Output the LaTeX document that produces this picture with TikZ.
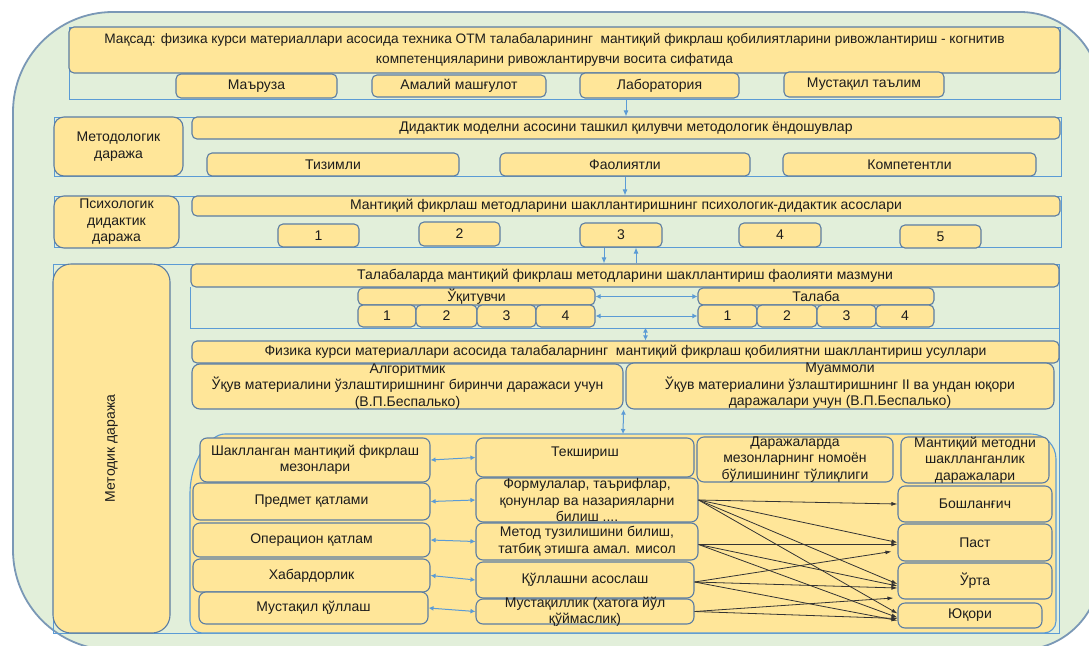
\documentclass[tikz,border=0pt]{standalone}
\usepackage{fontspec}
\setmainfont{Liberation Sans}
\usetikzlibrary{arrows.meta,calc}
\definecolor{frameg}{HTML}{E2EFDA}
\definecolor{framebd}{HTML}{7A98B6}
\definecolor{boxy}{HTML}{FFE699}
\definecolor{boxbd}{HTML}{5B7DA3}
\definecolor{grpl}{HTML}{5B9BD5}
\definecolor{txt}{HTML}{1C1C1C}
\newcommand{\fsz}{\fontsize{14}{16.5}\selectfont}
\tikzset{
 box/.style={draw=boxbd,fill=boxy,line width=1.1pt,rounded corners=5pt,inner sep=0pt},
 lbl/.style={font=\fsz,text=txt,align=center,inner sep=0pt},
 grp/.style={draw=grpl,line width=1pt},
 barrow/.style={draw=grpl,line width=1pt,-{Latex[length=6pt,width=5pt]}},
 bdarrow/.style={draw=grpl,line width=1pt,{Latex[length=5pt,width=5pt]}-{Latex[length=5pt,width=5pt]}},
 karrow/.style={draw=black!80,line width=0.8pt,-{Latex[length=6pt,width=4pt]}},
}
\newcommand{\bx}[7][]{%
 \node[box,#1,minimum width={#4-#2},minimum height={#5-#3}] (#6) at ({(#2+#4)/2},{(#3+#5)/2}) {};
 \node[lbl] (#6t) at (#6.center) {#7};}
\begin{document}
\begin{tikzpicture}[x=1pt,y=-1pt]
\useasboundingbox (0,0) rectangle (1089,645);
\fill[white] (0,0) rectangle (1089,645);
% outer frame
\draw[fill=frameg,draw=framebd,line width=1.8pt]
 (13,112) .. controls (13,56.8) and (57.8,12) .. (113,12)
 -- (1020,12) .. controls (1064.2,12) and (1100,47.8) .. (1100,92)
 -- (1100,570) .. controls (1100,614.2) and (1064.2,650) .. (1020,650)
 -- (113,650) .. controls (57.8,650) and (13,605.2) .. (13,550) -- cycle;
% group lines
\draw[grp] (69,27) rectangle (1060,99);
\draw[grp] (54,117) rectangle (1061,176);
\draw[grp] (54,196) rectangle (1061,247);
\draw[grp] (53,264) rectangle (1059,633);
\draw[grp] (190,287) -- (190,328) -- (1059,328);
% bottom group
\draw[fill=boxy,draw=grpl,line width=1.1pt]
 (190,494) .. controls (190,460.9) and (209.3,434) .. (225,434)
 -- (1031,434) .. controls (1044.8,434) and (1056,445.2) .. (1056,459)
 -- (1056,621) .. controls (1056,627.6) and (1050.6,633) .. (1044,633)
 -- (202,633) .. controls (195.4,633) and (190,627.6) .. (190,621) -- cycle;
% top section
\bx{69}{27}{1060}{73}{goal}{}
\node[lbl,font={\fontsize{13.7}{19.5}\selectfont}] (goaltx) at ($(goal.center)+(-10,0)$) {Мақсад: физика курси материаллари асосида техника ОТМ талабаларининг\ \ мантиқий фикрлаш қобилиятларини ривожлантириш - когнитив\\компетенцияларини ривожлантирувчи восита сифатида};
\bx{176}{74}{337}{98}{mar}{Маъруза}
\bx{372}{75}{546}{97}{ama}{Амалий машғулот}
\bx{580}{73}{739}{98}{lab}{Лаборатория}
\bx{784}{72}{944}{97}{mus}{Мустақил таълим}
% methodological
\bx[rounded corners=10pt]{54}{117}{183}{176}{mlev}{Методологик\\даража}
\bx{192}{117}{1060}{139}{did}{Дидактик моделни асосини ташкил қилувчи методологик ёндошувлар}
\bx{207}{153}{459}{176}{tiz}{Тизимли}
\bx{500}{153}{750}{176}{fao}{Фаолиятли}
\bx{783}{153}{1036}{176}{komp}{Компетентли}
% psychological
\bx[rounded corners=10pt]{54}{196}{179}{248}{plev}{Психологик\\дидактик\\даража}
\bx{192}{196}{1060}{216}{psy}{Мантиқий фикрлаш методларини шакллантиришнинг психологик-дидактик асослари}
\bx{278}{224}{359}{247}{p1}{1}
\bx{419}{222}{500}{246}{p2}{2}
\bx{580}{223}{662}{247}{p3}{3}
\bx{739}{223}{821}{247}{p4}{4}
\bx{900}{225}{981}{248}{p5}{5}
% methodic
\bx[rounded corners=18pt]{53}{264}{170}{633}{mk}{}
\node[lbl,rotate=90] (mktx) at (mk.center) {Методик даража};
\bx{191}{264}{1059}{287}{tal}{Талабаларда мантиқий фикрлаш методларини шакллантириш фаолияти мазмуни}
\bx{358}{288}{595}{305}{uq}{Ўқитувчи}
\bx{358}{305}{416}{327}{u1}{1}
\bx{416}{305}{477}{327}{u2}{2}
\bx{477}{305}{536}{327}{u3}{3}
\bx{536}{305}{595}{327}{u4}{4}
\bx{698}{288}{934}{305}{ta}{Талаба}
\bx{698}{305}{757}{327}{t1}{1}
\bx{757}{305}{817}{327}{t2}{2}
\bx{817}{305}{876}{327}{t3}{3}
\bx{876}{305}{934}{327}{t4}{4}
\bx{192}{341}{1059}{363}{fiz}{Физика курси материаллари асосида талабаларнинг\ \ мантиқий фикрлаш қобилиятни шакллантириш усуллари}
\bx[rounded corners=8pt]{192}{364}{623}{409}{alg}{Алгоритмик\\Ўқув материалини ўзлаштиришнинг биринчи даражаси учун\\(В.П.Беспалько)}
\bx[rounded corners=8pt]{626}{363}{1054}{409}{mua}{Муаммоли\\Ўқув материалини ўзлаштиришнинг II ва ундан юқори\\даражалари учун (В.П.Беспалько)}
% bottom boxes
\bx[rounded corners=7pt]{200}{438}{430}{482}{sh}{Шаклланган мантиқий фикрлаш\\мезонлари}
\bx[rounded corners=7pt]{193}{483}{430}{520}{pr}{Предмет қатлами}
\bx[rounded corners=7pt]{193}{523}{430}{557}{op}{Операцион қатлам}
\bx[rounded corners=7pt]{193}{559}{430}{592}{xa}{Хабардорлик}
\bx[rounded corners=7pt]{199}{592}{428}{624}{mu}{Мустақил қўллаш}
\bx[rounded corners=7pt]{476}{438}{694}{477}{te}{}
\node[lbl] (tet) at ($(te.center)+(0,-4)$) {Текшириш};
\bx[rounded corners=7pt]{476}{478}{698}{522}{fo}{Формулалар, таърифлар,\\қонунлар ва назарияларни\\билиш ....}
\bx[rounded corners=7pt]{476}{523}{698}{560}{me}{Метод тузилишини билиш,\\татбиқ этишга амал. мисол}
\bx[rounded corners=7pt]{476}{562}{694}{598}{qu}{Қўллашни асослаш}
\bx[rounded corners=7pt]{476}{599}{694}{624}{ms}{Мустақиллик (хатога йўл\\қўймаслик)}
\bx[rounded corners=7pt]{697}{437}{893}{482}{da}{Даражаларда\\мезонларнинг номоён\\бўлишининг тўлиқлиги}
\bx[rounded corners=7pt]{901}{437}{1049}{483}{mm}{Мантиқий методни\\шаклланганлик\\даражалари}
\bx[rounded corners=7pt]{898}{486}{1052}{522}{bo}{Бошланғич}
\bx[rounded corners=7pt]{898}{524}{1052}{561}{pa}{Паст}
\bx[rounded corners=7pt]{898}{563}{1052}{599}{ur}{Ўрта}
\bx[rounded corners=7pt]{898}{603}{1042}{628}{yu}{Юқори}
% blue arrows
\draw[barrow] (lab.south -| did.north) -- (did.north);
\draw[barrow] (fao.south) -- (fao.south |- psy.north);
\coordinate (a3d) at ($(p3.south)+(-17,0)$);
\coordinate (a3u) at ($(p3.south)+(15,0)$);
\draw[barrow] (a3d) -- (a3d |- tal.north);
\draw[barrow] (a3u |- tal.north) -- (a3u);
\draw[bdarrow] (uq.east) -- (ta.west);
\draw[bdarrow] (u4.east) -- (t1.west);
\coordinate (v1) at ($(fiz.north)+(20,0)$);
\draw[bdarrow] (v1 |- u4.south) -- (v1);
\coordinate (gtop) at (623,434);
\draw[bdarrow] (alg.south east) -- (gtop);
\draw[bdarrow] (sh.east) -- (te.west);
\draw[bdarrow] (pr.east) -- (fo.west);
\draw[bdarrow] (op.east) -- (me.west);
\draw[bdarrow] (xa.east) -- (qu.west);
\draw[bdarrow] (mu.east) -- (ms.west);
% black arrows
\draw[karrow] (fo.east) -- (bo.west);
\draw[karrow] (fo.east) -- ($(pa.west)+(0,0)$);
\draw[karrow] (fo.east) -- ($(ur.west)+(0,3)$);
\draw[karrow] (fo.east) -- ($(yu.west)+(0,-2)$);
\draw[karrow] ($(me.east)+(0,3)$) -- ($(pa.west)+(0,2)$);
\draw[karrow] ($(me.east)+(0,3)$) -- ($(ur.west)+(0,5)$);
\draw[karrow] ($(me.east)+(0,3)$) -- ($(yu.west)+(0,2)$);
\draw[karrow] ($(qu.east)+(0,2)$) -- ($(pa.west)+(-6,9)$);
\draw[karrow] ($(qu.east)+(0,2)$) -- ($(ur.west)+(0,7)$);
\draw[karrow] ($(qu.east)+(0,2)$) -- ($(yu.west)+(0,5)$);
\draw[karrow] (ms.east) -- ($(ur.west)+(-4,17)$);
\draw[karrow] (ms.east) -- ($(yu.west)+(0,3)$);
\end{tikzpicture}
\end{document}
